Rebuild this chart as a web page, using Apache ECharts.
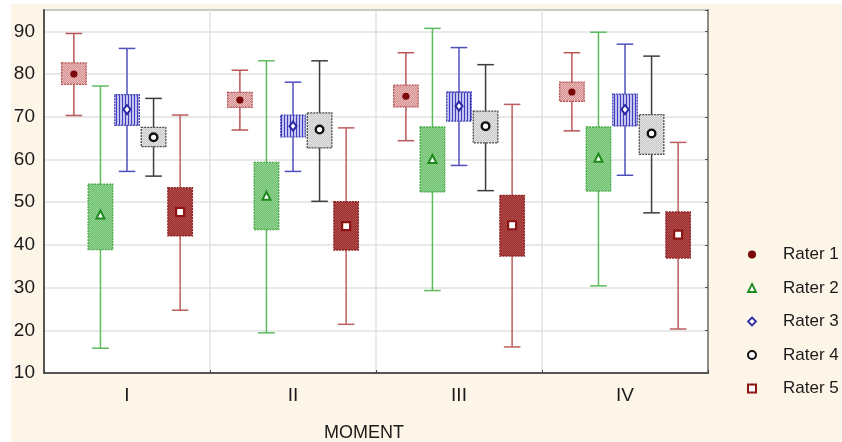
<!DOCTYPE html>
<html>
<head>
<meta charset="utf-8">
<script src="https://cdn.jsdelivr.net/npm/echarts@6/dist/echarts.min.js"></script>
<style>
  html, body { margin: 0; padding: 0; background: #fff; }
  #main { position: absolute; left: 11px; top: 4px; width: 831px; height: 438px; }
</style>
</head>
<body>
<div id="main"></div>
<script>
// stats per moment: [min, q1, mean, q3, max]
var moments = ['I', 'II', 'III', 'IV'];
var raters = ['Rater 1', 'Rater 2', 'Rater 3', 'Rater 4', 'Rater 5'];
var rater1 = [[70.3, 77.6, 80.0, 82.6, 89.5], [66.9, 72.2, 73.9, 75.7, 80.9], [64.4, 72.3, 74.8, 77.4, 85.0], [66.7, 73.6, 75.8, 78.1, 85.0]];
var rater2 = [[15.8, 38.9, 47.0, 54.2, 77.2], [19.4, 43.6, 51.4, 59.3, 83.1], [29.3, 52.4, 60.0, 67.6, 90.7], [30.4, 52.6, 60.3, 67.6, 89.8]];
var rater3 = [[57.2, 68.0, 71.7, 75.2, 86.0], [57.2, 65.3, 67.8, 70.4, 78.1], [58.6, 69.0, 72.5, 75.8, 86.2], [56.3, 67.9, 71.7, 75.3, 87.0]];
var rater4 = [[56.1, 63.0, 65.2, 67.5, 74.3], [50.2, 62.7, 67.0, 70.9, 83.1], [52.7, 63.9, 67.8, 71.3, 82.2], [47.5, 61.2, 66.1, 70.5, 84.2]];
var rater5 = [[24.7, 42.1, 47.7, 53.4, 70.4], [21.4, 38.8, 44.4, 50.1, 67.4], [16.1, 37.4, 44.6, 51.6, 72.9], [20.3, 36.9, 42.4, 47.7, 64.0]];
var allRaters = [rater1, rater2, rater3, rater4, rater5];

function stripes(a, b) {
  var c = document.createElement('canvas');
  c.width = 3; c.height = 3;
  var ctx = c.getContext('2d');
  ctx.fillStyle = b; ctx.fillRect(0, 0, 3, 3);
  ctx.fillStyle = a; ctx.fillRect(0, 0, 1, 3);
  return { image: c, repeat: 'repeat' };
}
function dots(a, b) {
  var c = document.createElement('canvas');
  c.width = 2; c.height = 2;
  var ctx = c.getContext('2d');
  ctx.fillStyle = b; ctx.fillRect(0, 0, 2, 2);
  ctx.fillStyle = a; ctx.fillRect(0, 0, 1, 1); ctx.fillRect(1, 1, 1, 1);
  return { image: c, repeat: 'repeat' };
}

var looks = [
  { whisker: '#b95656', box: dots('#d48e8e', '#ebbcbc'), border: '#b35050', mark: 'dot', markColor: '#7a0808' },
  { whisker: '#5cbc5c', box: dots('#6cbf6c', '#95d495'), border: '#45a845', mark: 'tri', markColor: '#1e8a1e' },
  { whisker: '#4f4fc0', box: stripes('#3c3cbc', '#c4c4ee'), border: '#4040b8', mark: 'diamond', markColor: '#2a2aa8' },
  { whisker: '#3c3c3c', box: dots('#c8c8c8', '#e4e4e4'), border: '#4a4a4a', mark: 'ring', markColor: '#111' },
  { whisker: '#bd5e5e', box: dots('#983030', '#b44c4c'), border: '#8c2020', mark: 'square', markColor: '#8c1414' }
];

function renderItem(params, api) {
  var k = params.seriesIndex;
  var look = looks[k];
  var cat = api.value(0);
  var band = api.size([1, 0])[0];
  var cx = api.coord([cat, 50])[0] + (k - 2) * band * 0.16;
  var yMin = api.coord([cat, api.value(1)])[1];
  var yQ1 = api.coord([cat, api.value(2)])[1];
  var yMean = api.coord([cat, api.value(3)])[1];
  var yQ3 = api.coord([cat, api.value(4)])[1];
  var yMax = api.coord([cat, api.value(5)])[1];
  var bw = band * 0.148;
  var cw = band * 0.1;
  var lineStyle = { stroke: look.whisker, lineWidth: 1.5 };
  var kids = [
    { type: 'line', shape: { x1: cx, y1: yMax, x2: cx, y2: yMin }, style: lineStyle },
    { type: 'line', shape: { x1: cx - cw / 2, y1: yMax, x2: cx + cw / 2, y2: yMax }, style: lineStyle },
    { type: 'line', shape: { x1: cx - cw / 2, y1: yMin, x2: cx + cw / 2, y2: yMin }, style: lineStyle },
    { type: 'rect', shape: { x: cx - bw / 2, y: yQ3, width: bw, height: yQ1 - yQ3 },
      style: { fill: look.box, stroke: look.border, lineWidth: 1.3, lineDash: [2, 1] } }
  ];
  var m = look.markColor;
  if (look.mark === 'dot') {
    kids.push({ type: 'circle', shape: { cx: cx, cy: yMean, r: 3.6 }, style: { fill: m } });
  } else if (look.mark === 'tri') {
    kids.push({ type: 'polygon', shape: { points: [[cx, yMean - 4.5], [cx - 4, yMean + 3.5], [cx + 4, yMean + 3.5]] },
      style: { fill: '#fff', stroke: m, lineWidth: 2 } });
  } else if (look.mark === 'diamond') {
    kids.push({ type: 'polygon', shape: { points: [[cx, yMean - 4.5], [cx + 3.5, yMean], [cx, yMean + 4.5], [cx - 3.5, yMean]] },
      style: { fill: '#fff', stroke: m, lineWidth: 2 } });
  } else if (look.mark === 'ring') {
    kids.push({ type: 'circle', shape: { cx: cx, cy: yMean, r: 3.8 }, style: { fill: '#fff', stroke: m, lineWidth: 2.4 } });
  } else {
    kids.push({ type: 'rect', shape: { x: cx - 4, y: yMean - 4, width: 8, height: 8 }, style: { fill: '#fff', stroke: m, lineWidth: 2.2 } });
  }
  return { type: 'group', children: kids };
}

var chartDom = document.getElementById('main');
var myChart = echarts.init(chartDom);
var option;

var font = 'Liberation Sans, Arial';
var legendIcons = ['circle', 'triangle', 'diamond', 'circle', 'rect'];
var legendStyles = [
  { color: '#7a0808' },
  { color: '#fff', borderColor: '#1e8a1e', borderWidth: 1.8 },
  { color: '#fff', borderColor: '#2a2aa8', borderWidth: 1.8 },
  { color: '#fff', borderColor: '#111', borderWidth: 2 },
  { color: '#fff', borderColor: '#8c1414', borderWidth: 2 }
];

option = {
  backgroundColor: '#fdf6e8',
  animation: false,
  grid: {
    left: 33, right: 134, top: 6, bottom: 69,
    outerBoundsMode: 'none', containLabel: false,
    show: true, backgroundColor: '#fff', borderColor: '#5a5a5a', borderWidth: 1.5
  },
  legend: {
    orient: 'vertical',
    left: 731, top: 237,
    itemWidth: 8, itemHeight: 8, itemGap: 16.5,
    textStyle: { fontFamily: font, fontSize: 17, color: '#1a1a1a', padding: [0, 0, 0, 22] },
    data: raters.map(function (r, i) {
      return { name: r, icon: legendIcons[i], itemStyle: legendStyles[i] };
    })
  },
  xAxis: {
    type: 'category',
    data: moments,
    name: 'MOMENT',
    nameLocation: 'middle',
    nameGap: 51,
    nameTextStyle: { fontFamily: font, fontSize: 18, color: '#1a1a1a', padding: [0, 24, 0, 0] },
    axisLine: { lineStyle: { color: '#555', width: 2 } },
    axisTick: { show: true, inside: true, length: 3, lineStyle: { color: '#444' } },
    axisLabel: { fontFamily: font, fontSize: 19, color: '#1a1a1a', margin: 13 },
    splitLine: { show: true, lineStyle: { color: '#e2e2e2', width: 1.5 } }
  },
  yAxis: [{
    type: 'value',
    min: 10, max: 95, interval: 10,
    axisLine: { show: true, lineStyle: { color: '#555', width: 2 } },
    axisTick: { show: false },
    axisLabel: {
      fontFamily: font, fontSize: 19, color: '#1a1a1a', margin: 9,
      formatter: function (v) { return v % 10 === 0 ? String(v) : ''; }
    },
    splitLine: { show: true, lineStyle: { color: '#e2e2e2', width: 1.5 } }
  }, {
    type: 'value', position: 'right',
    min: 10, max: 95, interval: 10,
    axisLine: { show: true, lineStyle: { color: '#777', width: 1.5 } },
    axisTick: { show: true, inside: true, length: 3, lineStyle: { color: '#555' } },
    axisLabel: { show: false },
    splitLine: { show: false }
  }],
  series: raters.map(function (r, i) {
    return {
      type: 'custom',
      name: r,
      renderItem: renderItem,
      encode: { x: 0, y: [1, 2, 3, 4, 5] },
      data: allRaters[i].map(function (s, j) { return [j].concat(s); }),
      z: 10
    };
  })
};

option && myChart.setOption(option);
</script>
</body>
</html>
